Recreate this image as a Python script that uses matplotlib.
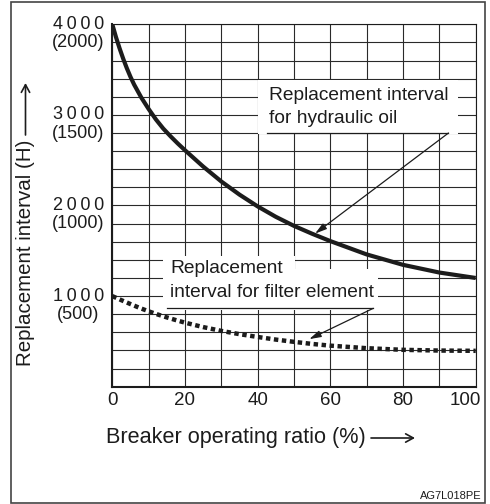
import matplotlib
matplotlib.use("Agg")
import matplotlib.pyplot as plt
from matplotlib.patches import Rectangle
from matplotlib.transforms import ScaledTranslation

plt.rcParams["font.family"] = ["Liberation Sans", "DejaVu Sans"]

# hydraulic oil interval vs breaker operating ratio
ratio_oil = [0, 1, 2, 3, 4, 5, 6, 8, 10, 12, 14, 16, 18, 20, 25, 30, 35, 40,
             45, 50, 55, 60, 70, 80, 90, 100]
interval_oil = [4000, 3860, 3735, 3620, 3515, 3420, 3335, 3190, 3065, 2950,
                2850, 2765, 2685, 2610, 2430, 2265, 2120, 1990, 1875, 1775,
                1688, 1607, 1460, 1345, 1260, 1200]

# filter element interval (same scale, read in brackets on the axis)
ratio_filter = [0, 2.5, 5, 7.5, 10, 12.5, 15, 17.5, 20, 25, 30, 35, 40, 45,
                50, 55, 60, 70, 80, 90, 100]
interval_filter = [1000, 955, 912, 870, 832, 797, 765, 735, 707, 658, 616,
                   580, 549, 520, 495, 472, 453, 425, 407, 399, 396]

x_labels = [0, 20, 40, 60, 80, 100]
y_labels = [4000, 3000, 2000, 1000]
y_labels_filter = [2000, 1500, 1000, 500]

INK = "#1c1c1c"
GRID = "#2a2a2a"

fig = plt.figure(figsize=(4.9, 5.04), dpi=100)
ax = fig.add_axes([112.3 / 490, 1 - 386.7 / 504, 363.4 / 490, 362.4 / 504])
ax.set_xlim(0, 100)
ax.set_ylim(0, 4000)

# grid every 10 % and every 200 h
ax.set_xticks(range(0, 101, 10))
ax.set_xticklabels([str(v) if v in x_labels else "" for v in range(0, 101, 10)],
                   fontsize=13.5, color=INK)
ax.set_yticks(range(0, 4001, 200))
ax.set_yticklabels([])
ax.tick_params(length=0, pad=4)
ax.grid(True, color=GRID, lw=0.8)
for side in ["left", "bottom"]:
    ax.spines[side].set_linewidth(1.5)
for side in ["top", "right"]:
    ax.spines[side].set_linewidth(0.8)
for sp in ax.spines.values():
    sp.set_color(INK)

# pull the "100" label back inside the frame
last = ax.get_xticklabels()[-1]
last.set_transform(last.get_transform() + ScaledTranslation(-0.1, 0, fig.dpi_scale_trans))

# y labels: hours for oil, bracketed hours for filter
ytr = ax.get_yaxis_transform()
for v, vf in zip(y_labels, y_labels_filter):
    ax.text(-0.094, v, "\u2009".join(str(v)), transform=ytr, ha="center",
            va="center", fontsize=13, color=INK)
    ax.text(-0.094, v - 200, f"({vf})", transform=ytr, ha="center",
            va="center", fontsize=13, color=INK)

# white patches behind the callout texts
ax.add_patch(Rectangle((40.2, 2790), 55.0, 600, fc="white", ec="none", zorder=2))
ax.add_patch(Rectangle((13.9, 1180), 36.5, 260, fc="white", ec="none", zorder=2))
ax.add_patch(Rectangle((13.9, 850), 59.1, 450, fc="white", ec="none", zorder=2))

ax.plot(ratio_oil, interval_oil, color=INK, lw=3, solid_capstyle="butt",
        solid_joinstyle="round", zorder=4)
ax.plot(ratio_filter, interval_filter, color=INK, lw=3.2,
        linestyle=(0, (1, 0.8)), dash_capstyle="butt", zorder=4)

# callouts
ax.text(43.2, 3164, "Replacement interval", fontsize=13.8, color=INK, zorder=5)
ax.text(43.2, 2914, "for hydraulic oil", fontsize=13.8, color=INK, zorder=5)
ax.plot([42.5, 92.5], [2800, 2800], color=INK, lw=0.9, zorder=5)
ax.annotate("", xy=(55.8, 1690), xytext=(92.5, 2800),
            arrowprops=dict(arrowstyle="-|>,head_length=0.7,head_width=0.2",
                            lw=0.9, color=INK, shrinkA=0, shrinkB=0), zorder=5)

ax.text(15.9, 1251, "Replacement", fontsize=13.8, color=INK, zorder=5)
ax.text(15.9, 993, "interval for filter element", fontsize=13.8, color=INK, zorder=5)
ax.plot([15.1, 71.8], [865, 865], color=INK, lw=0.9, zorder=5)
ax.annotate("", xy=(54.2, 525), xytext=(71.8, 865),
            arrowprops=dict(arrowstyle="-|>,head_length=0.7,head_width=0.2",
                            lw=0.9, color=INK, shrinkA=0, shrinkB=0), zorder=5)

# axis titles with long arrows
fig.text(106 / 490, 1 - 438 / 504, "Breaker operating ratio (%)", fontsize=15.6,
         color=INK, ha="left", va="center")
ax.annotate("", xy=(415, 504 - 438), xytext=(371, 504 - 438), xycoords="figure pixels",
            arrowprops=dict(arrowstyle="->,head_length=0.55,head_width=0.3",
                            lw=1.2, color=INK, shrinkA=0, shrinkB=0))
fig.text(25.5 / 490, 1 - 366 / 504, "Replacement interval (H)", fontsize=14.8,
         color=INK, rotation=90, ha="center", va="bottom")
ax.annotate("", xy=(25.5, 504 - 83), xytext=(25.5, 504 - 135), xycoords="figure pixels",
            arrowprops=dict(arrowstyle="->,head_length=0.55,head_width=0.3",
                            lw=1.2, color=INK, shrinkA=0, shrinkB=0))

fig.text(482 / 490, 1 - 496 / 504, "AG7L018PE", fontsize=8, color=INK,
         ha="right", va="center")

# frame round the whole figure
fig.add_artist(Rectangle((11 / 490, 1 / 504), 474 / 490, 501 / 504,
                         transform=fig.transFigure, fill=False, lw=1.2, ec="#444444"))

fig.savefig("out.png", dpi=100)
